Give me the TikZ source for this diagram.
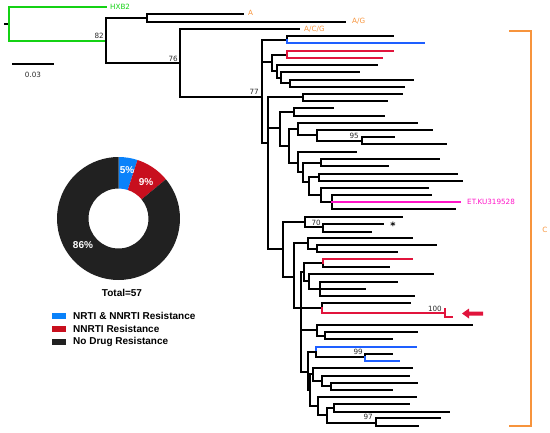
\documentclass[tikz,border=0pt]{standalone}
\usepackage{fontspec}
\setmainfont{DejaVu Sans}
\newfontfamily\lsans{Liberation Sans}
\definecolor{tgreen}{RGB}{20,210,20}
\definecolor{tblue}{RGB}{30,95,255}
\definecolor{tred}{RGB}{225,20,60}
\definecolor{tpink}{RGB}{255,20,200}
\definecolor{torange}{RGB}{247,148,60}
\definecolor{pblue}{RGB}{10,130,250}
\definecolor{pred}{RGB}{200,15,30}
\definecolor{pblack}{RGB}{33,33,33}
\definecolor{tnum}{RGB}{40,40,40}
% \tcl[opts]{x}{ya}{end a}{yb}{end b}
\newcommand{\tcl}[6][]{\draw[tl,#1] (#4,#3) -- (#2,#3) -- (#2,#5) -- (#6,#5);}
\begin{document}
\begin{tikzpicture}[x=1pt,y=-1pt,
  tl/.style={line width=1.7pt,line join=miter,line cap=rect},
  lab/.style={font=\fontsize{7.2}{8}\selectfont,inner sep=0pt},
  num/.style={lab,text=tnum},
  ptxt/.style={font=\lsans\bfseries\fontsize{10}{12}\selectfont,inner sep=0pt},
  legsq/.style={minimum width=14pt,minimum height=6pt,inner sep=0pt}]
\useasboundingbox (0,0) rectangle (550,432);
% ---------- outgroup ----------
\draw[tl] (5,24) -- (9,24);
\draw[tl,tgreen] (106,7) -- (9,7) -- (9,41) -- (106,41);
\tcl{106}{18}{147}{63}{180}
\tcl{147}{14}{243}{22}{345}
\tcl{180}{29}{299}{97}{262}
% ---------- clade C ----------
\tcl{262}{40}{287}{143}{268}
\draw[tl] (262,62) -- (272,62);
\draw[tl] (393,36) -- (287,36) -- (287,40);
\draw[tl,tblue] (287,40) -- (287,43) -- (424,43);
\tcl{272}{55}{287}{71}{277}
\tcl[tred]{287}{51}{393}{58}{382}
\tcl{277}{65}{377}{78}{281}
\tcl{281}{72}{359}{83}{290}
\tcl{290}{80}{413}{87}{404}
\tcl{268}{97}{303}{249}{283}
\draw[tl] (268,128) -- (280,128);
\tcl{303}{94}{402}{101}{387}
\tcl{280}{112}{294}{146}{289}
\tcl{294}{108}{333}{116}{384}
\tcl{289}{129}{298}{163}{298}
\tcl{298}{123}{417}{135}{317}
\tcl{317}{130}{432}{141}{362}
\tcl{362}{137}{394}{144}{446}
\tcl{298}{152}{356}{172}{303}
\tcl{303}{163}{321}{182}{309}
\tcl{321}{159}{439}{166}{388}
\tcl{309}{177}{319}{195}{321}
\tcl{319}{174}{457}{181}{462}
\tcl{321}{188}{428}{202}{332}
\tcl{332}{195}{431}{209}{455}
\draw[tl,tpink] (332,202) -- (460,202);
\tcl{283}{222}{305}{277}{294}
\tcl{305}{217}{402}{227}{323}
\tcl{323}{224}{383}{232}{371}
\tcl{294}{243}{308}{308}{301}
\tcl{308}{238}{412}{249}{317}
\tcl{317}{245}{436}{252}{397}
\tcl{301}{272}{304}{372}{308}
\draw[tl] (301,308) -- (322,308);
\draw[tl] (301,330) -- (317,330);
\tcl{304}{263}{323}{281}{309}
\draw[tl] (323,263) -- (323,267) -- (389,267);
\draw[tl,tred] (412,259) -- (323,259) -- (323,263);
\tcl{309}{274}{433}{289}{320}
\tcl{320}{282}{397}{296}{414}
\draw[tl] (320,289) -- (365,289);
\draw[tl] (410,303) -- (322,303) -- (322,308);
\draw[tl,tred] (322,308) -- (322,313) -- (445,313);
\draw[tl,tred] (445,309) -- (445,317) -- (452,317);
\tcl{317}{325}{472}{336}{325}
\tcl{325}{332}{417}{339}{392}
\tcl{308}{352}{316}{390}{310}
\draw[tl,tblue] (416,347) -- (316,347) -- (316,352);
\draw[tl] (316,352) -- (316,357) -- (365,357);
\draw[tl] (392,354) -- (365,354) -- (365,357);
\draw[tl,tblue] (365,357) -- (365,361) -- (399,361);
\tcl{310}{374}{313}{406}{318}
\tcl{313}{368}{412}{381}{322}
\tcl{322}{376}{409}{386}{331}
\tcl{331}{383}{417}{390}{392}
\tcl{318}{397}{416}{415}{327}
\tcl{327}{408}{334}{423}{376}
\tcl{334}{404}{409}{412}{449}
\tcl{376}{418}{440}{426}{418}
% arrow
\fill[tred] (462,313.5) -- (469,308.5) -- (469,311.5) -- (483,311.5) -- (483,315.5) -- (469,315.5) -- (469,318.5) -- cycle;
% ---------- labels ----------
\node[lab,text=tgreen,anchor=west] (hxb) at (110,7) {HXB2};
\node[lab,text=torange,anchor=west] (la) at (248,13) {A};
\node[lab,text=torange,anchor=west] (lag) at (352,21) {A/G};
\node[lab,text=torange,anchor=west] (lacg) at (304,29) {A/C/G};
\node[lab,text=tpink,anchor=west] (let) at (467,202) {ET.KU319528};
\node[lab,text=torange] (lc) at (545,230) {C};
\node[num,anchor=east] (b82) at (104,36) {82};
\node[num,anchor=east] (b76) at (178,59) {76};
\node[num,anchor=east] (b77) at (259,92) {77};
\node[num,anchor=east] (b95) at (359,136) {95};
\node[num,anchor=east] (b70) at (321,223) {70};
\node[num,anchor=east] (b100) at (442,309) {100};
\node[num,anchor=east] (b99) at (363,352) {99};
\node[num,anchor=east] (b97) at (373,417) {97};
\node[font=\bfseries\fontsize{10}{10}\selectfont,inner sep=0pt] (ast) at (393,226) {*};
% bracket
\draw[torange,line width=1.3pt] (509,31) -- (531,31) -- (531,426) -- (509,426);
% scale bar
\draw[line width=1.5pt] (12,64) -- (54,64);
\node[num] (sc) at (33,75) {0.03};
% ---------- donut ----------
\coordinate (pc) at (118.5,218.5);
\fill[pblue] ([shift={(90:61.5pt)}]pc) arc[start angle=90,end angle=72,radius=61.5pt] -- ([shift={(72:30pt)}]pc) arc[start angle=72,end angle=90,radius=30pt] -- cycle;
\fill[pred] ([shift={(72:61.5pt)}]pc) arc[start angle=72,end angle=39.6,radius=61.5pt] -- ([shift={(39.6:30pt)}]pc) arc[start angle=39.6,end angle=72,radius=30pt] -- cycle;
\fill[pblack] ([shift={(39.6:61.5pt)}]pc) arc[start angle=39.6,end angle=-270,radius=61.5pt] -- ([shift={(-270:30pt)}]pc) arc[start angle=-270,end angle=39.6,radius=30pt] -- cycle;
\node[ptxt,text=white] (p5) at (127,170) {5\%};
\node[ptxt,text=white] (p9) at (146,182) {9\%};
\node[ptxt,text=white] (p86) at (83,245) {86\%};
\node[ptxt] (tot) at (122,293) {Total=57};
% legend
\node[legsq,fill=pblue] (s1) at (59,316) {};
\node[legsq,fill=pred] (s2) at (59,329) {};
\node[legsq,fill=pblack] (s3) at (59,342) {};
\node[ptxt,anchor=west] (t1) at (73,316) {NRTI \& NNRTI Resistance};
\node[ptxt,anchor=west] (t2) at (73,329) {NNRTI Resistance};
\node[ptxt,anchor=west] (t3) at (73,342) {No Drug Resistance};
\end{tikzpicture}
\end{document}
